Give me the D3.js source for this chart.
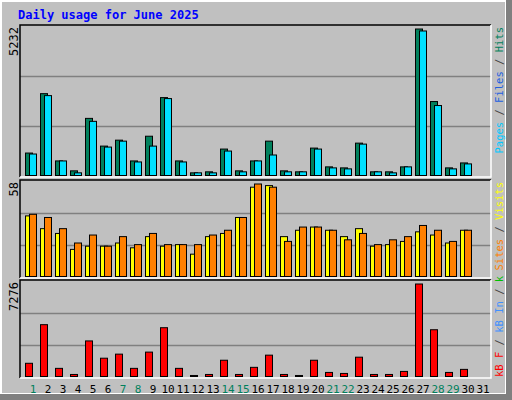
<!DOCTYPE html>
<html><head><meta charset="utf-8">
<script src="https://cdn.jsdelivr.net/npm/d3@7"></script>
<style>body{margin:0;background:#fff}svg{display:block}</style>
</head><body>
<svg id="c" width="512" height="400"></svg>
<script>
const days = d3.range(1, 32);
const weekendDays = [1,7,8,14,15,21,22,28,29];
const hits  = [802,2923,520,166,2040,1050,1262,520,1403,2782,520,95,131,944,166,520,1227,166,131,979,308,272,1156,131,131,308,5232,2641,272,449,0];
const files = [767,2853,520,95,1934,1015,1227,484,1050,2747,484,95,95,873,131,520,732,131,131,944,272,237,1121,131,95,308,5161,2499,237,414,0];
const visits = [38,30,27,17,19,19,21,18,25,19,20,14,25,27,37,56,57,25,29,31,29,25,30,19,20,22,28,26,21,29,0];
const sites  = [39,37,30,21,26,19,25,20,27,20,20,20,26,29,37,58,56,22,31,31,29,23,27,20,23,25,32,29,22,29,0];
const kbF = [1039,4077,640,160,2798,1439,1759,640,1919,3838,640,80,160,1279,160,720,1679,160,80,1279,320,240,1519,160,160,400,7276,3678,320,560,0];
const maxLabels = ["5232","58","7276"];

const svg = d3.select("#c");
const mono = "DejaVu Sans Mono, monospace";
svg.append("rect").attr("x",0).attr("y",0).attr("width",512).attr("height",400).attr("fill","#808080");
svg.append("rect").attr("x",0).attr("y",0).attr("width",506).attr("height",394).attr("fill","#fff");
svg.append("rect").attr("x",2).attr("y",2).attr("width",503).attr("height",391).attr("fill","#c0c0c0");
svg.append("text").attr("x",18).attr("y",19).attr("font-family",mono).attr("font-weight","bold")
  .attr("font-size",12).attr("fill","#0000ff").text("Daily usage for June 2025");

const x = d3.scaleBand().domain(days).range([22, 487]);
const L = 20, R = 491;
const panels = [
  {top:25, bot:177, max:5232, yTop:29, series:[[hits,"#00805c",0],[files,"#00e0ff",4]],
   legend:[["Pages","#00c8ff"],[" / ","#444"],["Files","#2060e0"],[" / ","#444"],["Hits","#00805c"]], label:maxLabels[0], anchorTop:true},
  {top:180, bot:278, max:58, yTop:184, series:[[visits,"#ffff00",0],[sites,"#ff8000",4]],
   legend:[["Out","#00c000"],[" ","#444"],["Sites","#ff8000"],[" / ","#444"],["Visits","#ffff00"]], label:maxLabels[1], anchorTop:true},
  {top:280, bot:378, max:7276, yTop:284, series:[[kbF,"#ff0000",0]],
   legend:[["kB F","#ff0000"],[" / ","#444"],["kB In","#4090ff"],[" / ","#444"],["kB Out","#00c000"]], label:maxLabels[2], anchorTop:false}
];
const defs = svg.append("defs");
panels.forEach((p,i) => {
  const base = p.bot - 1.5;
  const y = d3.scaleLinear().domain([0, p.max]).range([base, p.yTop]);
  svg.append("rect").attr("x",L).attr("y",p.top).attr("width",R-L).attr("height",p.bot-p.top).attr("fill","#c0c0c0");
  const h = p.bot - p.top;
  [1/3, 2/3].forEach(f => svg.append("line").attr("x1",L).attr("x2",R)
     .attr("y1",Math.round(p.top+h*f)+0.5).attr("y2",Math.round(p.top+h*f)+0.5).attr("stroke","#808080").attr("stroke-width",1.5));
  p.series.forEach(([vals,col,off]) => {
    svg.append("g").selectAll("rect").data(days.filter((d,j)=>vals[j]>0)).join("rect")
      .attr("x", d => x(d)+3+off+0.5).attr("width",7)
      .attr("y", d => y(vals[d-1])).attr("height", d => Math.max(0, base - y(vals[d-1])))
      .attr("fill",col).attr("stroke","#000").attr("stroke-width",1);
  });
  svg.append("path").attr("d",`M${L},${p.bot}V${p.top}H${R}`).attr("fill","none").attr("stroke","#000").attr("stroke-width",1.5);
  svg.append("path").attr("d",`M${R},${p.top}V${p.bot}H${L}`).attr("fill","none").attr("stroke","#fff").attr("stroke-width",1.5);
  svg.append("text").attr("transform",`translate(18,${p.top+2}) rotate(-90)`).attr("text-anchor","end")
    .attr("font-family",mono).attr("font-size",12).attr("fill","#000").text(p.label);
  defs.append("clipPath").attr("id","cl"+i).append("rect").attr("x",492).attr("y",p.top-4).attr("width",14).attr("height",p.bot-p.top+4);
  const t = svg.append("g").attr("clip-path",`url(#cl${i})`).append("text")
    .attr("transform", p.anchorTop ? `translate(503,${p.top+2}) rotate(-90)` : `translate(503,${p.bot-1}) rotate(-90)`)
    .attr("text-anchor", p.anchorTop ? "end" : "start")
    .attr("font-family",mono).attr("font-size",10.5);
  p.legend.forEach(([s,c]) => t.append("tspan").attr("fill",c).text(s));
});
svg.append("g").selectAll("text").data(days).join("text")
  .attr("x", d => x(d)+11).attr("y",393).attr("text-anchor","middle")
  .attr("font-family",mono).attr("font-size",11)
  .attr("fill", d => weekendDays.includes(d) ? "#00805c" : "#000").text(d => d);
</script>
</body></html>
